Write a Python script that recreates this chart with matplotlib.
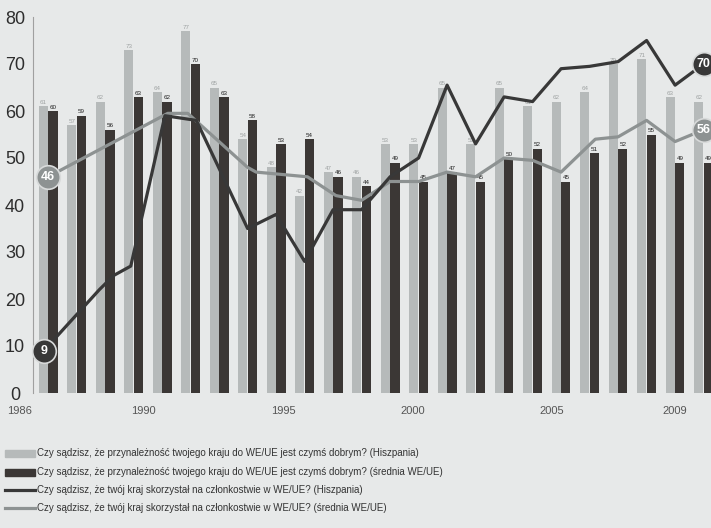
import matplotlib
matplotlib.use("Agg")
import matplotlib.pyplot as plt
from matplotlib.lines import Line2D
from matplotlib.patches import Rectangle

# bars: one pair per year
years = list(range(1986, 2010))
spain_good = [61, 57, 62, 73, 64, 77, 65, 54, 48, 42, 47, 46, 53, 53, 65, 53, 65, 61, 62, 64, 70, 71, 63, 62]
eu_good = [60, 59, 56, 63, 62, 70, 63, 58, 53, 54, 46, 44, 49, 45, 47, 45, 50, 52, 45, 51, 52, 55, 49, 49]

# lines: survey dates (fractional years) and values
spain_benefit_t = [1985.85, 1987.8, 1988.3, 1988.9, 1990.1, 1991.2, 1993, 1994, 1995, 1996, 1997,
                   1998, 1999, 2000, 2001, 2002, 2003, 2004, 2005, 2006, 2007, 2008, 2009]
spain_benefit = [9, 22, 25, 27, 59, 58, 35, 38, 28, 39, 39,
                 46, 50, 65.5, 53, 63, 62, 69, 69.5, 70.5, 75, 65.5, 70]
eu_benefit_t = [1986, 1990.2, 1990.9, 1993, 1993.3, 1995.1, 1996.1, 1997, 1998, 1999, 2000,
                2001, 2002, 2003, 2004, 2005.2, 2006, 2007, 2008, 2009]
eu_benefit = [46, 59.5, 59.5, 48, 47, 46, 42, 41, 45, 45, 47,
              46, 50, 49.5, 47, 54, 54.5, 58, 53.5, 56]

tick_years = [1986, 1990, 1995, 2000, 2005, 2009]
tick_pos = [1985.0, 1989.33, 1994.25, 1998.8, 2003.68, 2008.0]

labels = [
    "Czy sądzisz, że przynależność twojego kraju do WE/UE jest czymś dobrym? (Hiszpania)",
    "Czy sądzisz, że przynależność twojego kraju do WE/UE jest czymś dobrym? (średnia WE/UE)",
    "Czy sądzisz, że twój kraj skorzystał na członkostwie w WE/UE? (Hiszpania)",
    "Czy sądzisz, że twój kraj skorzystał na członkostwie w WE/UE? (średnia WE/UE)",
]

bg = "#e7e9e9"
light = "#b6baba"
dark = "#3b3735"
line_dark = "#383838"
line_grey = "#8d9292"

plt.rcParams["font.family"] = ["Liberation Sans", "DejaVu Sans"]

W, H = 711, 528
fig = plt.figure(figsize=(W / 100, H / 100), dpi=100, facecolor=bg)
ax = fig.add_axes([33 / W, 1 - 393 / H, 1 - 33 / W, (393 - 17) / H])
ax.set_facecolor(bg)

x = [y for y in years]
b1 = ax.bar([v - 0.17 for v in x], spain_good, width=0.32, color=light, zorder=2)
b2 = ax.bar([v + 0.17 for v in x], eu_good, width=0.32, color=dark, zorder=2)
ax.bar_label(b1, fontsize=4.5, color="#9fa3a3", padding=1)
ax.bar_label(b2, fontsize=4.5, color="#222222", padding=1)

ax.plot(eu_benefit_t, eu_benefit, color=line_grey, lw=2.3, zorder=3)
ax.plot(spain_benefit_t, spain_benefit, color=line_dark, lw=2.3, zorder=4)

# end markers with values
for t, v, c in [(eu_benefit_t[0], eu_benefit[0], line_grey), (eu_benefit_t[-1], eu_benefit[-1], line_grey),
                (spain_benefit_t[0], spain_benefit[0], line_dark), (spain_benefit_t[-1], spain_benefit[-1], line_dark)]:
    ax.plot(t, v, "o", ms=17, mfc=c, mec="#d8dada", mew=1.2, zorder=5, clip_on=False)
    ax.text(t, v, f"{v:g}", ha="center", va="center", fontsize=9, color="white",
            fontweight="bold", zorder=6, clip_on=False)

ax.set_xlim(1985.47, 2009.26)
ax.set_ylim(0, 80)
for s in ["top", "right", "bottom"]:
    ax.spines[s].set_visible(False)
ax.spines["left"].set_color("#a0a0a0")
ax.spines["left"].set_linewidth(0.8)
ax.set_xticks([])
ax.set_yticks(range(0, 81, 10))
ax.tick_params(axis="y", length=0, pad=13, labelsize=13, labelcolor="#2e2e2e")
for lbl in ax.get_yticklabels():
    lbl.set_ha("center")

for p, yr in zip(tick_pos, tick_years):
    ax.text(p, -0.047, str(yr), transform=ax.get_xaxis_transform(), ha="center", va="center",
            fontsize=8, color="#555555", clip_on=False)

# legend drawn by hand below the chart
rows = [453, 472, 490, 508]
kinds = [("patch", light), ("patch", dark), ("line", line_dark), ("line", line_grey)]
for yy, (kind, col), lab in zip(rows, kinds, labels):
    yf = 1 - yy / H
    if kind == "patch":
        fig.add_artist(Rectangle((5 / W, yf - 3.5 / H), 30 / W, 7 / H, transform=fig.transFigure,
                                 color=col))
    else:
        fig.add_artist(Line2D([5 / W, 35 / W], [yf, yf], transform=fig.transFigure, color=col, lw=2.3))
    fig.text(37 / W, yf, lab, ha="left", va="center", fontsize=7.0, color="#333333")

fig.savefig("out.png", dpi=100, facecolor=bg)
